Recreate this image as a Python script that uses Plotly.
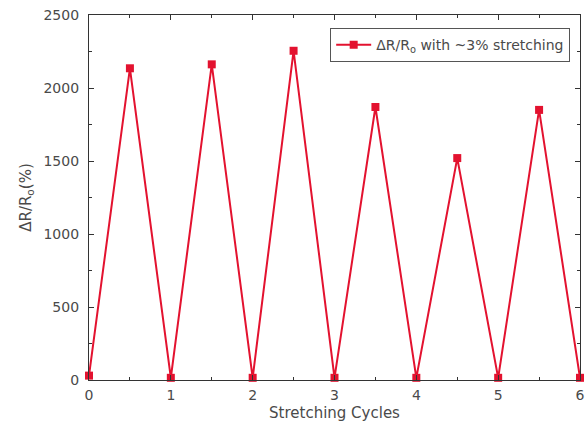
import plotly.graph_objects as go

cycles = [0, 0.5, 1, 1.5, 2, 2.5, 3, 3.5, 4, 4.5, 5, 5.5, 6]
delta_r = [30, 2135, 15, 2162, 15, 2255, 15, 1870, 15, 1520, 15, 1850, 15]
series_name = "ΔR/R<sub>o</sub> with ~3% stretching"
x_ticks = [0, 1, 2, 3, 4, 5, 6]
y_ticks = [0, 500, 1000, 1500, 2000, 2500]

red = "#e3122f"
font_family = "DejaVu Sans, Arial"
text_color = "#4a4a4a"

fig = go.Figure()
fig.add_trace(go.Scatter(
    x=cycles, y=delta_r, mode="lines+markers", name=series_name,
    line=dict(color=red, width=2),
    marker=dict(symbol="square", size=8, color=red),
    cliponaxis=False,
))

axis_common = dict(
    showline=True, linecolor="#333", linewidth=1.2, mirror="ticks",
    ticks="inside", ticklen=5, tickcolor="#333",
    showgrid=False, zeroline=False, ticklabeloverflow="allow",
    tickfont=dict(family=font_family, size=14, color=text_color),
)

fig.update_layout(
    width=585, height=423,
    margin=dict(l=89, r=5, t=15, b=43),
    paper_bgcolor="white", plot_bgcolor="white",
    showlegend=True,
    hovermode=False,
    legend=dict(
        x=0.98, y=0.964, xanchor="right", yanchor="top",
        bordercolor="#555", borderwidth=1, bgcolor="white",
        font=dict(family=font_family, size=14, color=text_color),
        itemwidth=35, tracegroupgap=0,
    ),
    xaxis=dict(
        range=[0, 6], tickvals=x_ticks, ticktext=[str(v) for v in x_ticks],
        minor=dict(dtick=0.5, ticks="inside", ticklen=3, tickcolor="#333"),
        ticklabelstandoff=2, automargin="bottom",
        title=dict(text="Stretching Cycles", standoff=5,
                   font=dict(family=font_family, size=15, color=text_color)),
        **axis_common,
    ),
    yaxis=dict(
        range=[0, 2500], tickvals=y_ticks, ticktext=[str(v) for v in y_ticks],
        minor=dict(dtick=250, ticks="inside", ticklen=3, tickcolor="#333"),
        ticklabelstandoff=6, automargin="left",
        title=dict(text="ΔR/R<sub>o</sub>(%)", standoff=8,
                   font=dict(family=font_family, size=15, color=text_color)),
        **axis_common,
    ),
)

# Remove the default page margin so the figure fills the 585x423 window exactly.
fig.write_html(
    "out.html",
    config={"displayModeBar": False},
    post_script="document.body.style.margin='0';document.body.style.overflow='hidden';",
)
